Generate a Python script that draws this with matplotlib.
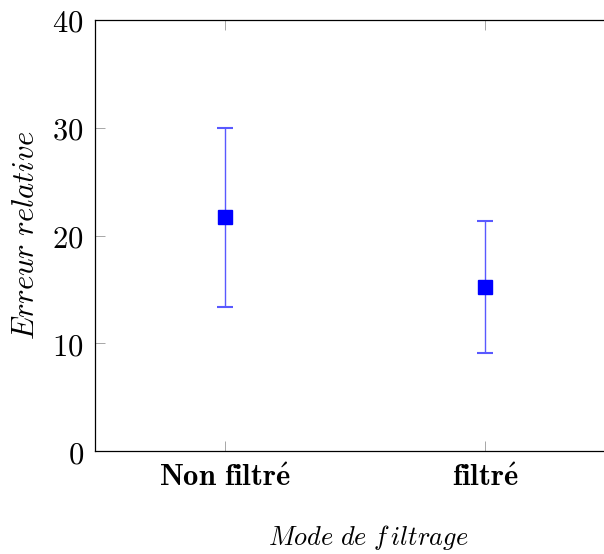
import matplotlib
matplotlib.use("Agg")
import matplotlib.pyplot as plt

# data
categories = ["Non filtré", "filtré"]
tick_labels = [r"$\mathbf{Non\ filtr\acute{e}}$", r"$\mathbf{filtr\acute{e}}$"]
means = [21.7, 15.2]
errors = [8.3, 6.1]
y_ticks = [0, 10, 20, 30, 40]

plt.rcParams["mathtext.fontset"] = "cm"
plt.rcParams["font.family"] = "serif"
plt.rcParams["font.serif"] = ["DejaVu Serif"]

fig = plt.figure(figsize=(6.04, 5.54), dpi=100)
ax = fig.add_axes([95 / 604, 103 / 554, 520 / 604, 431 / 554])

x = list(range(len(categories)))
ax.errorbar(x, means, yerr=errors, fmt="s", color="blue", markersize=9.5,
            ecolor=(0.35, 0.35, 1.0), elinewidth=1.0, capsize=5.5, capthick=1.5)

ax.set_xlim(-0.5, 1.5)
ax.set_ylim(0, 40)
ax.set_xticks(x)
ax.set_xticklabels(tick_labels, fontsize=22)
ax.set_yticks(y_ticks)
ax.set_yticklabels([f"${v}$" for v in y_ticks], fontsize=22)

ax.tick_params(direction="in", length=7, width=0.6, color="#999999",
               top=True, right=True, pad=8)
for s in ax.spines.values():
    s.set_linewidth(0.9)

ax.set_xlabel(r"$Mode\ de\ f\,iltrage$", fontsize=19)
ax.xaxis.set_label_coords(0.525, -0.2, transform=ax.transAxes)
ax.xaxis.label.set_va("center")
ax.set_ylabel(r"$Erreur\ relative$", fontsize=22, labelpad=8)

fig.savefig("out.png", dpi=100)
